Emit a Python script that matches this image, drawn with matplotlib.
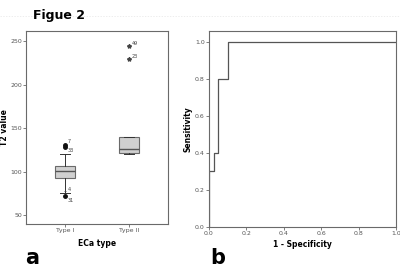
import matplotlib.pyplot as plt
from matplotlib.lines import Line2D

# =========================
# DATA
# =========================
groups = ["Type I", "Type II"]
medians = [101, 126]
q1s = [93, 122]
q3s = [106.5, 140]
whis_lo = [76, 120]
whis_hi = [121, 140]

# outliers: group index, value, case label, marker
out_group = [0, 0, 0, 0, 1, 1]
out_value = [131, 129, 78, 72, 245, 230]
out_label = ["7", "33", "4", "31", "49", "23"]
out_marker = ["o", "o", "+", "o", "*", "*"]

fpr = [0, 0, 0.025, 0.05, 0.1, 1.0]
tpr = [0, 0.3, 0.4, 0.8, 1.0, 1.0]

yticks_a = [50, 100, 150, 200, 250]
xticks_b = [0.0, 0.2, 0.4, 0.6, 0.8, 1.0]
yticks_b = [0.0, 0.2, 0.4, 0.6, 0.8, 1.0]

# =========================
# FIGURE
# =========================
fig = plt.figure(figsize=(4.0, 2.73), dpi=100)
W, H = 400, 273
edge = "#6a6a6a"


def px_axes(x0, y0, x1, y1):
    return fig.add_axes([x0 / W, 1 - y1 / H, (x1 - x0) / W, (y1 - y0) / H])


def style(ax):
    for s in ax.spines.values():
        s.set_color(edge)
        s.set_linewidth(0.8)
    ax.tick_params(direction="out", length=2, width=0.6, color=edge,
                   labelsize=4.5, labelcolor="#555555", pad=1)


# --- a: boxplot ---
ax1 = px_axes(26, 31, 168, 224)
stats = []
for i in range(len(groups)):
    stats.append(dict(med=medians[i], q1=q1s[i], q3=q3s[i],
                      whislo=whis_lo[i], whishi=whis_hi[i], fliers=[]))
ax1.bxp(stats, positions=[1, 2], widths=0.32, patch_artist=True,
        showfliers=False,
        boxprops=dict(facecolor="#d0d0d0", edgecolor=edge, linewidth=0.8),
        medianprops=dict(color="#555555", linewidth=1.0),
        whiskerprops=dict(color="#333333", linewidth=0.7),
        capprops=dict(color="#333333", linewidth=0.7))

# label offsets (points) so close outliers don't collide
lab_off = {"7": (2, 2.5), "33": (2, -2.5), "4": (2, 1), "31": (2, -3),
           "49": (2, 1.5), "23": (2, 1.5)}
for g, v, lab, m in zip(out_group, out_value, out_label, out_marker):
    if m == "o":
        ax1.plot(g + 1, v, marker="o", ms=2.5, color="#111111")
    elif m == "*":
        ax1.plot(g + 1, v, marker="*", ms=3, color="#444444")
    else:
        ax1.plot(g + 1, v, marker="+", ms=2, color="#444444", mew=0.5)
    ax1.annotate(lab, (g + 1, v), xytext=lab_off[lab], textcoords="offset points",
                 fontsize=3.5, color="#444444", va="center")
ax1.set_xlim(0.39, 2.61)
ax1.set_ylim(40, 262)
ax1.set_xticks([1, 2])
ax1.set_xticklabels(groups)
ax1.set_yticks(yticks_a)
style(ax1)
ax1.set_xlabel("ECa type", fontsize=5.5, fontweight="bold", labelpad=4)
ax1.set_ylabel("T2 value", fontsize=5.5, fontweight="bold", labelpad=1)

# --- b: ROC ---
ax2 = px_axes(209, 31, 396, 227)
ax2.plot(fpr, tpr, drawstyle="steps-post", color="#555555", linewidth=0.9)
ax2.set_xlim(0, 1.0)
ax2.set_ylim(0, 1.058)
ax2.set_xticks(xticks_b)
ax2.set_yticks(yticks_b)
ax2.set_xticklabels([f"{t:.1f}" for t in xticks_b])
ax2.set_yticklabels([f"{t:.1f}" for t in yticks_b])
style(ax2)
ax2.set_xlabel("1 - Specificity", fontsize=5.5, fontweight="bold", labelpad=3)
ax2.set_ylabel("Sensitivity", fontsize=5.5, fontweight="bold", labelpad=2)

# --- text ---
fig.add_artist(Line2D([0, 1], [1 - 16 / H, 1 - 16 / H], color="#e6e6e6",
                      linewidth=0.5, linestyle=(0, (2, 2))))
fig.text(33 / W, 1 - 16 / H, "Figue 2", fontsize=9, fontweight="bold",
         va="center", ha="left")
fig.text(25 / W, 1 - 258 / H, "a", fontsize=15, fontweight="bold",
         va="center", ha="left")
fig.text(210 / W, 1 - 258 / H, "b", fontsize=15, fontweight="bold",
         va="center", ha="left")

fig.savefig("out.png", dpi=100)
